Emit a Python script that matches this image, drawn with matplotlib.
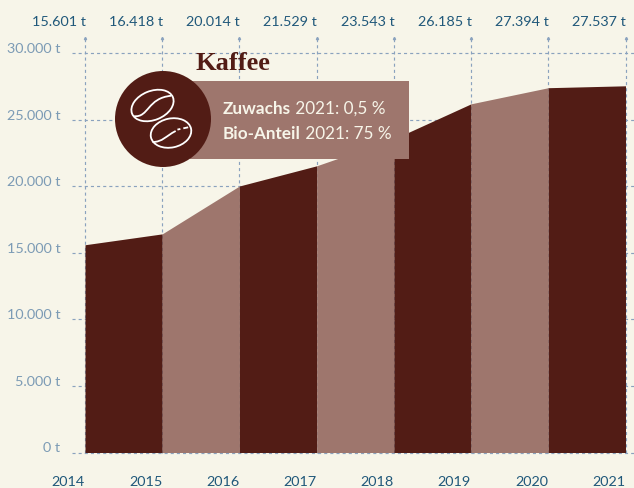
import numpy as np
import matplotlib
matplotlib.use("Agg")
import matplotlib.pyplot as plt
from matplotlib.patches import Circle, Ellipse, Rectangle, PathPatch
from matplotlib.path import Path
from matplotlib.transforms import Affine2D

years = [2014, 2015, 2016, 2017, 2018, 2019, 2020, 2021]
tonnes = [15601, 16418, 20014, 21529, 23543, 26185, 27394, 27537]
y_ticks = [0, 5000, 10000, 15000, 20000, 25000, 30000]

BG = "#f7f5e9"
DARK = "#521c15"
LIGHT = "#9e766d"
GRID = "#8aa2be"
TOP = "#20587a"
YLAB = "#7c9bb5"
SANS = ["Lato", "DejaVu Sans"]
LABEL_SIZE = 10.4


def tons(v):
    return f"{v:,}".replace(",", ".") + " t"


W, H = 634, 488
fig = plt.figure(figsize=(W / 100, H / 100), dpi=100, facecolor=BG)

# Main axes fill the figure; limits place the years and tonnage on the page.
ax = fig.add_axes([0, 0, 1, 1], facecolor=BG)
px_per_year = (625.5 - 85) / 7
px_per_t = (452.5 - 53) / 30000
ax.set_xlim(2014 - 85 / px_per_year, 2014 + (W - 85) / px_per_year)
ax.set_ylim(-(H - 452.5) / px_per_t, 452.5 / px_per_t)
ax.axis("off")

dash = (0, (2.6, 2.6))
x0 = ax.get_xlim()[0]
for t in y_ticks:
    ax.plot([x0 + 72 / px_per_year, ax.get_xlim()[1]], [t, t], color=GRID, lw=0.85,
            ls=dash, zorder=1)
    ax.annotate(tons(t), (x0, t), xytext=(60.5, 0), textcoords="offset pixels",
                ha="right", va="baseline", fontsize=LABEL_SIZE, color=YLAB, family=SANS)

for yr, val in zip(years, tonnes):
    ax.plot([yr, yr], [0, 31100], color=GRID, lw=0.85, ls=dash, zorder=1)
    ax.plot([yr], [31100], marker="^", ms=1.6, color=GRID, zorder=1)
    ax.annotate(tons(val), (yr, 30000), xytext=(0.5, 27),
                textcoords="offset pixels", ha="right", va="baseline",
                fontsize=LABEL_SIZE, color=TOP, family=SANS)
    ax.annotate(str(yr), (yr, 0), xytext=(0, -33), textcoords="offset pixels",
                ha="right", va="baseline", fontsize=LABEL_SIZE, color=TOP, family=SANS)

# Alternating bands under the tonnage curve
for i in range(len(years) - 1):
    ax.fill_between(years[i:i + 2], 0, tonnes[i:i + 2], zorder=2, lw=0,
                    color=DARK if i % 2 == 0 else LIGHT)

# Callout on a pixel-based overlay
ov = fig.add_axes([0, 0, 1, 1], facecolor="none")
ov.set_xlim(0, W)
ov.set_ylim(H, 0)
ov.axis("off")
ov.add_patch(Rectangle((190, 81), 219, 78, color=LIGHT, lw=0, zorder=3))
ov.add_patch(Circle((163, 119), 48, color=DARK, lw=0, zorder=4))


def bean(cx, cy, w, h, angle, seams):
    ov.add_patch(Ellipse((cx, cy), w, h, angle=angle, fc="none", ec="white",
                         lw=1.3, zorder=5))
    rot = Affine2D().rotate_deg(angle).translate(cx, cy)
    for seam in seams:
        path = Path(seam, [Path.MOVETO, Path.CURVE4, Path.CURVE4, Path.CURVE4])
        ov.add_patch(PathPatch(path, transform=rot + ov.transData, fc="none",
                               ec="white", lw=1.3, zorder=5))


bean(152.5, 105.5, 44, 29, -22,
     [[(-21, 3), (-8, 10), (-2, -9), (21, -2)]])
bean(171, 133, 41, 29, -12,
     [[(-20, 5), (-10, 7), (-6, 2), (5, -1)],
      [(7, -2), (8, -2), (9, -2), (10, -2)],
      [(13, -2), (15, -2), (17, -2), (18, -2)]])

ov.text(196, 63, "Kaffee", fontsize=19, fontweight="bold", color=DARK,
        family="Liberation Serif", ha="left", va="center", zorder=6)
for y, head, rest in [(113.5, "Zuwachs", "2021: 0,5 %"),
                      (139, "Bio-Anteil", "2021: 75 %")]:
    t = ov.text(223, y, head, fontsize=12.3, fontweight="bold", color=BG,
                family=SANS, ha="left", va="baseline", zorder=6)
    ov.annotate(" " + rest, xy=(1, 0), xycoords=t, fontsize=12.3, color=BG,
                family=SANS, ha="left", va="bottom", zorder=6)

fig.savefig("out.png", dpi=100, facecolor=BG)
